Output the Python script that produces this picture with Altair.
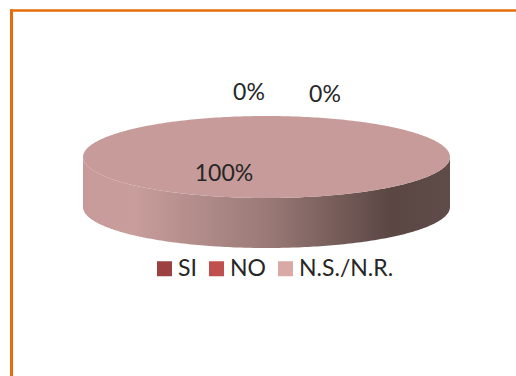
import numpy as np
import pandas as pd
import altair as alt

# Survey answers and their shares of the pie (percent)
categories = ["SI", "NO", "N.S./N.R."]
shares = [0, 0, 100]
legend_colors = ["#9c4140", "#c0504d", "#d9a9a8"]

# Anchors of the percentage labels, in the same order as the categories
label_x = [249, 325, 224]
label_y = [93, 95, 174]

# Geometry of the tilted disc
CX, CY, RX, RY, DEPTH = 266.5, 157, 183.5, 41, 50
TOP_COLOR = "#c79b99"
FONT = "Lato"
X_SCALE = alt.Scale(domain=[0, 516])
Y_SCALE = alt.Scale(domain=[376, 0])
X = alt.X("x:Q", axis=None, scale=X_SCALE)
Y = alt.Y("y:Q", axis=None, scale=Y_SCALE)


def disc_rows():
    """Sample the visible slices as top and front outlines of an ellipse."""
    rows = []
    for name, share in zip(categories, shares):
        if share == 0:
            continue
        for t in np.linspace(0, np.pi * share / 100, 181):
            half = RY * np.sin(t)
            rows.append({
                "category": name,
                "x": CX - RX * np.cos(t),
                "back": CY - half,
                "front": CY + half,
                "bottom": CY + half + DEPTH,
            })
    return pd.DataFrame(rows)


disc = disc_rows()

side = alt.Chart(disc).mark_area(
    color=alt.Gradient(
        gradient="linear",
        x1=0, x2=1, y1=0, y2=0,
        stops=[
            alt.GradientStop(offset=0.0, color="#c79b99"),
            alt.GradientStop(offset=0.14, color="#c89d9b"),
            alt.GradientStop(offset=0.5, color="#9a7a77"),
            alt.GradientStop(offset=0.84, color="#5a4643"),
            alt.GradientStop(offset=1.0, color="#5f4c49"),
        ],
    )
).encode(x=X, y=alt.Y("front:Q", axis=None, scale=Y_SCALE), y2="bottom:Q")

top = alt.Chart(disc).mark_area(color=TOP_COLOR).encode(
    x=X, y=alt.Y("back:Q", axis=None, scale=Y_SCALE), y2="front:Q"
)

labels = alt.Chart(pd.DataFrame({
    "x": label_x,
    "y": label_y,
    "text": [f"{s}%" for s in shares],
})).mark_text(font=FONT, fontSize=23, color="#262626").encode(x=X, y=Y, text="text:N")

# Zero-sized points that carry the colour scale and its legend
legend_layer = alt.Chart(pd.DataFrame({
    "category": categories,
    "x": [CX] * 3,
    "y": [CY] * 3,
})).mark_square(size=0).encode(
    x=X,
    y=Y,
    color=alt.Color(
        "category:N",
        scale=alt.Scale(domain=categories, range=legend_colors),
        sort=None,
        legend=alt.Legend(
            title=None,
            orient="none",
            legendX=153,
            legendY=257,
            direction="horizontal",
            symbolType="square",
            symbolSize=225,
            symbolStrokeWidth=0,
            symbolOpacity=1,
            labelFont=FONT,
            labelFontSize=23,
            labelColor="#262626",
            labelOffset=2,
            columnPadding=8,
        ),
    ),
)

# Orange frame along the top and left edges
frame_top = alt.Chart(pd.DataFrame({"a": [0]})).mark_rule(
    color="#e46c0a", strokeWidth=2.5
).encode(x=alt.value(10), x2=alt.value(516), y=alt.value(10.5))
frame_left = alt.Chart(pd.DataFrame({"a": [0]})).mark_rule(
    color="#e46c0a", strokeWidth=3
).encode(x=alt.value(11.5), y=alt.value(9.5), y2=alt.value(376))

chart = alt.layer(
    side, top, labels, legend_layer, frame_top, frame_left
).properties(
    width=516, height=376, padding=0,
    autosize=alt.AutoSizeParams(type="none"),
    background="white",
).configure_view(stroke=None)

chart.save("out.html", embed_options={"renderer": "svg", "actions": False})
